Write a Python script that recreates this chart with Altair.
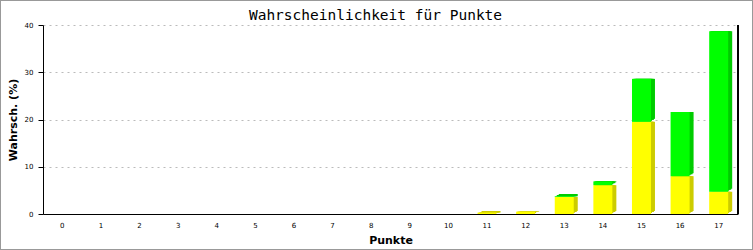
import altair as alt
import pandas as pd

# ---- data ----
punkte = list(range(18))
gelb = [0, 0, 0, 0, 0, 0, 0, 0, 0, 0, 0, 0.3, 0.5, 3.6, 6.1, 19.5, 8.0, 4.7]
gruen = [0, 0, 0, 0, 0, 0, 0, 0, 0, 0, 0, 0, 0, 0.15, 0.8, 9.1, 13.6, 34.0]
y_ticks = [0, 10, 20, 30, 40]

W, H = 695, 189

rows = []
for p, a, b in zip(punkte, gelb, gruen):
    rows.append({"Punkte": str(p), "seg": "gelb", "lo": 0.0, "hi": a})
    rows.append({"Punkte": str(p), "seg": "gruen", "lo": a, "hi": a + b})
df = pd.DataFrame(rows)

front_col = alt.Scale(domain=["gelb", "gruen"], range=["#ffff00", "#00ff00"])
side_col = alt.Scale(domain=["gelb", "gruen"], range=["#cccc00", "#00cc00"])

x_enc = alt.X(
    "Punkte:O",
    scale=alt.Scale(domain=[str(p) for p in punkte], paddingInner=0, paddingOuter=0),
    axis=alt.Axis(
        title="Punkte", labelAngle=0, ticks=False, grid=False,
        domainColor="black", domainWidth=1, labelPadding=7,
        labelFont="DejaVu Sans", labelFontSize=7, labelColor="black",
        titleFont="DejaVu Sans", titleFontSize=11, titleFontWeight="bold",
        titleColor="black", titlePadding=6,
    ),
)
y_enc = alt.Y(
    "lo:Q",
    scale=alt.Scale(domain=[0, 40], nice=False),
    axis=alt.Axis(
        title="Wahrsch. (%)", values=y_ticks, grid=True,
        gridColor="#bbbbbb", gridDash=[2, 4], gridWidth=1,
        domainColor="black", domainWidth=1, tickColor="black", tickSize=5,
        labelPadding=5, labelFont="DejaVu Sans", labelFontSize=7,
        labelColor="black",
        titleFont="DejaVu Sans", titleFontSize=11, titleFontWeight="bold",
        titleColor="black", titlePadding=6,
    ),
)

nonzero = alt.datum.hi > alt.datum.lo

layers = []
# 3D depth (side and top faces) built from shifted darker copies
for dx, dy in [(1, -1), (2, -2), (3, -2), (4, -3)]:
    for seg in ["gelb", "gruen"]:
        layers.append(
            alt.Chart(df).transform_filter(alt.datum.seg == seg)
            .transform_filter(nonzero)
            .mark_bar(size=19, xOffset=dx, yOffset=dy, cornerRadius=0)
            .encode(x=x_enc, y=y_enc, y2="hi:Q",
                    color=alt.Color("seg:N", scale=side_col, legend=None))
        )
# front faces
layers.append(
    alt.Chart(df).transform_filter(nonzero).mark_bar(size=19)
    .encode(x=x_enc, y=y_enc, y2="hi:Q",
            color=alt.Color("seg:N", scale=front_col, legend=None))
)
# right border line of plot
layers.append(
    alt.Chart(df).mark_rule(color="black", strokeWidth=1)
    .encode(x=alt.value(W), y=alt.value(0), y2=alt.value(H))
)
# outer frame of the picture
layers.append(
    alt.Chart(df).mark_rect(fill=None, stroke="#999999", strokeWidth=1)
    .encode(x=alt.value(-42.5), x2=alt.value(W + 14.5),
            y=alt.value(-24.5), y2=alt.value(H + 35.5))
)

chart = (
    alt.layer(*layers)
    .resolve_scale(color="independent")
    .properties(
        width=W, height=H,
        title=alt.TitleParams(
            "Wahrscheinlichkeit für Punkte", font="DejaVu Sans Mono",
            fontSize=14.5, fontWeight="normal", color="black",
            anchor="middle", frame="group", offset=-23, dx=-15,
        ),
        autosize=alt.AutoSizeParams(type="none"),
        padding={"left": 43, "top": 25, "right": 15, "bottom": 36},
        background="white",
    )
    .configure_view(stroke=None)
)

chart.save("out.html", embed_options={"renderer": "svg", "actions": False})
